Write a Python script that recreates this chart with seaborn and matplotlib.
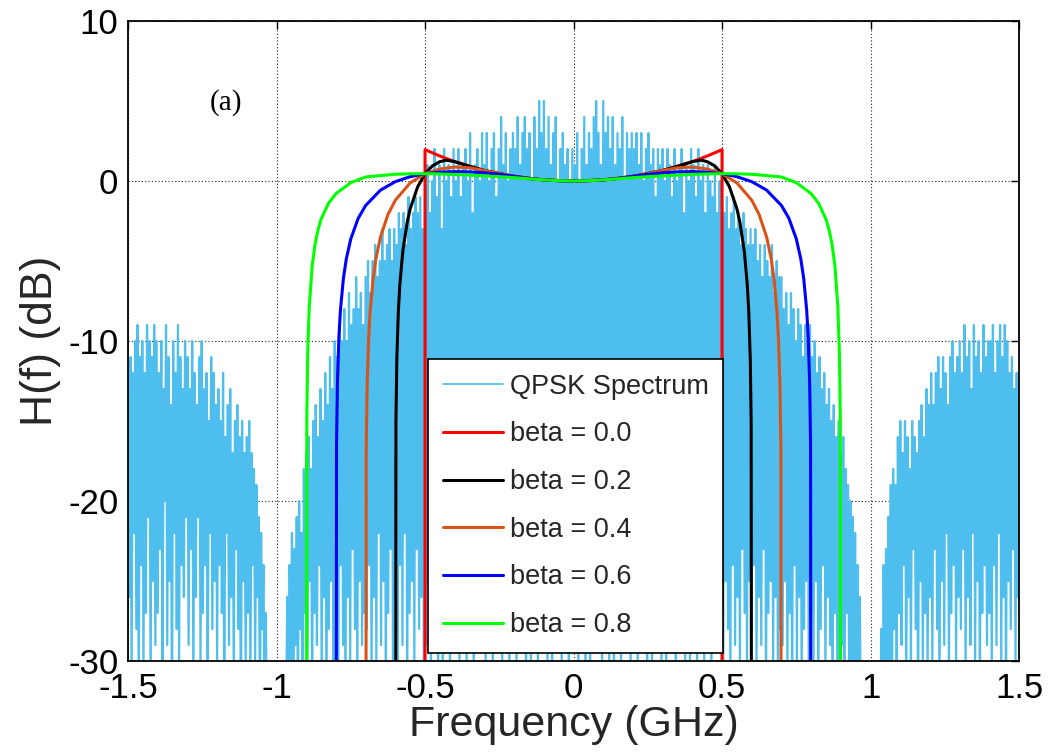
import numpy as np
import matplotlib
matplotlib.use("Agg")
import matplotlib.pyplot as plt
import seaborn as sns

# ---------------- data ----------------
# QPSK spectrum in dB, sampled uniformly from -1.5 to 1.5 GHz (751 samples)
spec_db = [
    -13,-26,-11,-31,-12,-22,-10,-28,-9,-33,-11,-24,-10,-30,-12,-27,-9,-21,-10,-32,-11,-25,-9,-29,-10,
    -27,-12,-23,-10,-31,-13,-20,-9,-29,-11,-25,-14,-34,-10,-22,-12,-28,-9,-30,-11,-24,-13,-26,-10,-21,
    -11,-29,-13,-23,-10,-32,-12,-26,-14,-21,-11,-30,-10,-27,-13,-24,-12,-33,-15,-22,-11,-28,-12,-25,-14,
    -30,-13,-24,-15,-27,-12,-33,-16,-22,-14,-29,-13,-26,-17,-31,-15,-23,-14,-28,-16,-35,-15,-25,-17,-30,
    -16,-27,-15,-31,-17,-24,-18,-30,-19,-26,-21,-33,-22,-28,-24,-34,-27,-36,-45,-45,-45,-45,-45,-45,-45,
    -45,-45,-45,-45,-45,-45,-45,-45,-34,-26,-38,-24,-31,-22,-35,-23,-29,-21,-33,-20,-28,-22,-34,-18,-27,
    -17,-30,-16,-25,-18,-32,-15,-27,-14,-29,-16,-24,-13,-31,-15,-26,-12,-33,-14,-28,-11,-25,-13,-30,-10,
    -27,-11,-31,-9,-24,-10,-29,-8,-33,-10,-26,-7,-30,-9,-23,-8,-28,-6,-32,-8,-25,-7,-29,-9,-27,
    -6,-28,-5,-24,-7,-31,-5,-26,-4,-30,-6,-22,-5,-29,-3,-25,-5,-33,-4,-27,-3,-23,-5,-30,-3,
    -26,-4,-31,-2,-24,-3,-29,-2,-22,-4,-33,-1,-27,-3,-25,-2,-30,-1,-23,-2,-28,-1,-26,-3,-31,
    -1,-29,1,-25,-2,-31,0,-23,2,-28,-1,-33,1,-26,-3,-30,2,-24,0,-27,1,-32,-1,-25,2,
    -28,0,-24,2,-31,-1,-26,1,-22,2,-30,0,-27,3,-25,-2,-33,1,-29,2,-23,0,-28,3,-26,
    1,-30,3,-25,0,-28,2,-32,3,-24,-1,-29,2,-26,4,-31,1,-23,3,-27,0,-33,2,-25,3,
    -27,2,-31,4,-24,1,-29,3,-26,4,-33,2,-25,3,-30,0,-28,4,-23,2,-31,5,-26,3,-29,
    5,-25,2,-30,4,-27,1,-32,3,-24,4,-29,0,-26,2,-31,3,-23,1,-28,2,-33,0,-25,2,
    -29,1,-26,3,-31,0,-24,2,-28,4,-32,1,-25,3,-30,2,-27,4,-23,5,-29,3,-26,1,-31,
    5,-27,3,-24,4,-30,2,-26,4,-33,1,-28,3,-25,2,-31,4,-23,0,-29,3,-26,2,-32,3,
    -28,2,-25,3,-31,1,-24,3,-29,0,-27,2,-33,3,-26,1,-30,2,-23,-1,-28,2,-25,1,-31,
    2,-26,0,-30,2,-24,1,-29,-1,-27,2,-32,0,-25,1,-28,2,-23,-2,-30,1,-26,0,-31,2,
    -29,1,-25,-1,-32,2,-27,0,-24,1,-30,-2,-26,1,-28,0,-33,-1,-25,1,-29,-2,-23,0,-27,
    -1,-30,-2,-25,-1,-28,-3,-32,-2,-24,-1,-29,-3,-26,-2,-31,-4,-23,-2,-27,-3,-30,-4,-25,-3,
    -28,-4,-24,-3,-31,-5,-26,-4,-29,-6,-23,-4,-33,-5,-27,-6,-25,-4,-30,-7,-26,-5,-32,-6,-28,
    -6,-29,-8,-25,-7,-31,-9,-27,-7,-33,-8,-24,-10,-30,-8,-26,-9,-32,-11,-28,-9,-25,-10,-31,-9,
    -27,-11,-30,-10,-25,-12,-33,-11,-28,-13,-24,-12,-31,-14,-26,-13,-29,-15,-34,-14,-27,-16,-30,-15,-32,
    -17,-29,-16,-33,-18,-27,-19,-31,-20,-35,-21,-30,-22,-34,-24,-36,-26,-38,-45,-45,-45,-45,-45,-45,-45,
    -45,-45,-45,-45,-45,-45,-45,-45,-36,-28,-38,-24,-33,-23,-35,-21,-30,-19,-33,-18,-28,-19,-31,-16,-27,
    -15,-29,-17,-24,-15,-32,-16,-26,-18,-30,-15,-23,-16,-28,-17,-33,-15,-25,-14,-30,-16,-27,-13,-31,-14,
    -26,-12,-30,-14,-23,-12,-28,-11,-33,-13,-25,-11,-29,-12,-22,-14,-31,-11,-27,-10,-24,-12,-30,-11,-26,
    -10,-28,-12,-23,-9,-31,-11,-26,-10,-29,-13,-22,-9,-30,-11,-25,-10,-33,-12,-27,-9,-24,-11,-29,-10,
    -27,-10,-31,-9,-24,-12,-29,-10,-22,-9,-30,-11,-26,-9,-33,-10,-25,-12,-28,-11,-23,-13,-30,-12,-26,-14,
]
spec_f = np.linspace(-1.5, 1.5, len(spec_db))

# Filter responses H(f) in dB (positive-frequency half; curves are symmetric)
f_b00 = [0, 0.1, 0.2, 0.3, 0.4, 0.45, 0.5, 0.5]
h_b00 = [0, 0.07, 0.29, 0.66, 1.21, 1.56, 1.96, -60]

f_b02 = [0, 0.05, 0.1, 0.15, 0.2, 0.25, 0.3, 0.35, 0.4, 0.43, 0.45, 0.475, 0.5, 0.525,
         0.55, 0.56, 0.575, 0.585, 0.59, 0.595, 0.598, 0.6]
h_b02 = [0, 0.02, 0.07, 0.16, 0.29, 0.46, 0.66, 0.91, 1.21, 1.30, 1.21, 0.95, 0.46, -0.37,
         -1.74, -2.57, -4.41, -6.50, -8.20, -11.15, -15.1, -60]

f_b04 = [0, 0.05, 0.1, 0.15, 0.2, 0.25, 0.3, 0.35, 0.4, 0.45, 0.5, 0.55, 0.6, 0.625,
         0.65, 0.665, 0.675, 0.685, 0.69, 0.695, 0.698, 0.7]
h_b04 = [0, 0.02, 0.07, 0.16, 0.29, 0.46, 0.66, 0.83, 0.87, 0.75, 0.46, -0.12, -1.20, -2.10,
         -3.50, -4.82, -6.13, -8.19, -9.88, -12.81, -16.7, -60]

f_b06 = [0, 0.05, 0.1, 0.15, 0.2, 0.25, 0.3, 0.35, 0.4, 0.45, 0.5, 0.55, 0.6, 0.65, 0.7,
         0.725, 0.75, 0.765, 0.775, 0.785, 0.79, 0.795, 0.798, 0.8]
h_b06 = [0, 0.02, 0.07, 0.16, 0.29, 0.42, 0.51, 0.57, 0.59, 0.55, 0.46, 0.27, -0.04, -0.57,
         -1.53, -2.33, -3.62, -4.86, -6.10, -8.10, -9.75, -12.64, -16.5, -60]

f_b08 = [0, 0.05, 0.1, 0.15, 0.2, 0.25, 0.3, 0.35, 0.4, 0.45, 0.5, 0.55, 0.6, 0.65, 0.7,
         0.75, 0.8, 0.825, 0.85, 0.86, 0.87, 0.88, 0.89, 0.895, 0.898, 0.9]
h_b08 = [0, 0.02, 0.07, 0.14, 0.21, 0.27, 0.32, 0.37, 0.41, 0.44, 0.46, 0.45, 0.42, 0.34,
         0.25, -0.10, -0.79, -1.39, -2.39, -3.03, -3.92, -5.30, -7.91, -10.70, -14.6, -60]

beta_labels = ["beta = 0.0", "beta = 0.2", "beta = 0.4", "beta = 0.6", "beta = 0.8"]
beta_colors = ["#FF0000", "#000000", "#D95319", "#0000FF", "#00FF00"]

x_ticks = [-1.5, -1, -0.5, 0, 0.5, 1, 1.5]
x_ticklabels = ["-1.5", "-1", "-0.5", "0", "0.5", "1", "1.5"]
y_ticks = [-30, -20, -10, 0, 10]
y_ticklabels = ["-30", "-20", "-10", "0", "10"]


def mirror(f, h):
    f = np.asarray(f, float)
    h = np.asarray(h, float)
    return np.concatenate([-f[::-1], f[1:]]), np.concatenate([h[::-1], h[1:]])


# ---------------- plotting ----------------
sns.set_theme(style="white")
plt.rcParams["font.family"] = ["Liberation Sans", "DejaVu Sans"]

fig = plt.figure(figsize=(10.52, 7.53), dpi=100)
ax = fig.add_axes([0.1217, 0.1222, 0.8470, 0.8499])

sns.lineplot(x=spec_f, y=spec_db, ax=ax, color="#4DBEEE", linewidth=1.6,
             estimator=None, sort=False, label="QPSK Spectrum")

curves = [(f_b00, h_b00), (f_b02, h_b02), (f_b04, h_b04), (f_b06, h_b06), (f_b08, h_b08)]
for (f, h), lab, col in zip(curves, beta_labels, beta_colors):
    xx, yy = mirror(f, h)
    sns.lineplot(x=xx, y=yy, ax=ax, color=col, linewidth=2.2,
                 estimator=None, sort=False, label=lab)

ax.set_xlim(-1.5, 1.5)
ax.set_ylim(-30, 10)
ax.set_xticks(x_ticks)
ax.set_xticklabels(x_ticklabels)
ax.set_yticks(y_ticks)
ax.set_yticklabels(y_ticklabels)

ax.grid(True, linestyle=(0, (1, 2)), color="#222222", linewidth=0.8)
ax.set_axisbelow(True)
ax.tick_params(direction="in", length=6, width=1.0, top=True, right=True,
               labelsize=25, pad=7, colors="black")
ax.tick_params(axis="x", pad=8)
for s in ax.spines.values():
    s.set_visible(True)
    s.set_color("black")
    s.set_linewidth(1.3)

ax.set_xlabel("Frequency (GHz)", fontsize=31, labelpad=0, color="#262626")
ax.set_ylabel("H(f) (dB)", fontsize=32, labelpad=5, color="#262626")

ax.text(-1.17, 4.9, "(a)", fontsize=21, family=["Liberation Serif", "DejaVu Serif"],
        ha="center", va="center", color="black")

leg = ax.legend(loc="lower left", bbox_to_anchor=(0.337, 0.0125), borderaxespad=0,
                fontsize=19.5, frameon=True, fancybox=False, shadow=False,
                handlelength=2.2, handletextpad=0.25, labelspacing=0.8,
                borderpad=0.55, framealpha=1.0)
leg.get_frame().set_edgecolor("black")
leg.get_frame().set_linewidth(1.2)
for line in leg.get_lines()[:1]:
    line.set_linewidth(1.2)

fig.savefig("out.png", dpi=100)
